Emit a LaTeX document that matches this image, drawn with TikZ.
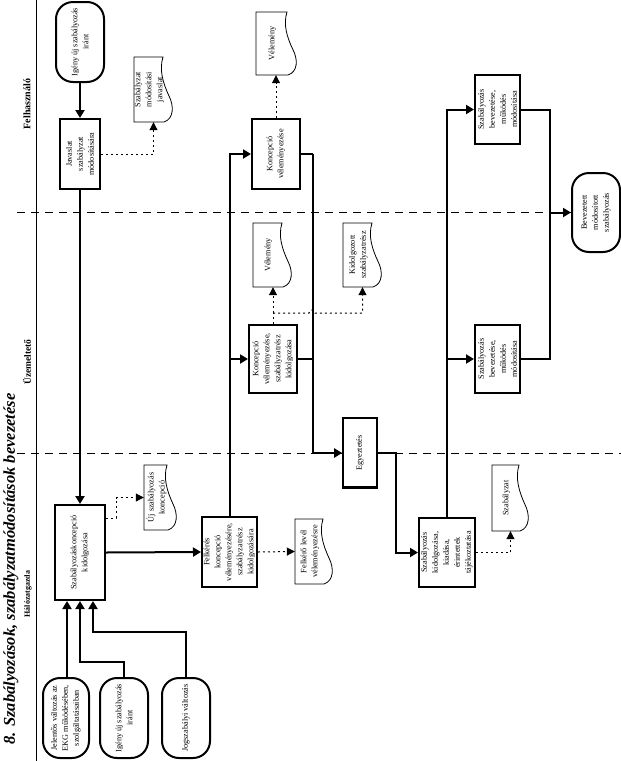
\documentclass[tikz,border=0pt]{standalone}
\usepackage{fontspec}
\setmainfont{Liberation Serif}
\usetikzlibrary{arrows.meta,fit,calc}
\newcommand\mkdoc[6]{%
  \node[box, fit={(#2,#3) (#4,#5)}] (#1) {};
  \draw[doc] (#2,#3) -- ({#4-10},#3)
    .. controls ({#4-14},{#3+0.2*(#5-#3)}) and ({#4-10},{#3+0.4*(#5-#3)}) .. ({#4-4},{#3+0.6*(#5-#3)})
    .. controls ({#4+1},{#3+0.75*(#5-#3)}) and ({#4+1},{#3+0.95*(#5-#3)}) .. ({#4-9},#5)
    -- (#2,#5) -- cycle;
  \node[lbl] (#1-t) at ({(#2+#4-8)/2},{(#3+#5)/2}) {#6};
}
\begin{document}
\begin{tikzpicture}[x=1pt,y=-1pt,
  box/.style={inner sep=0pt},
  proc/.style={draw, line width=2pt, fill=white, inner sep=0pt},
  term/.style={draw, line width=2pt, rounded corners=17pt, fill=white, inner sep=0pt},
  lbl/.style={rotate=90, align=center, inner sep=0pt, font=\fontsize{8.2}{11}\selectfont},
  flowline/.style={line width=2pt},
  flow/.style={line width=2pt, -{Triangle[length=8pt,width=9pt]}},
  dotline/.style={line width=1pt, dash pattern=on 2pt off 3pt},
  dotflow/.style={dotline, -{Triangle[length=8pt,width=8pt]}},
  doc/.style={line width=0.8pt, fill=white},
  lane/.style={line width=0.8pt, dash pattern=on 8pt off 6pt},
]
\useasboundingbox (0,0) rectangle (621,761);

% frame lines
\draw[line width=0.8pt] (36,0) -- (36,761);
\draw[lane] (17,212) -- (621,212);
\draw[lane] (17,453) -- (621,453);

% titles
\node[rotate=90, inner sep=0pt, font=\fontsize{16.5}{16.5}\bfseries\itshape\selectfont] (title) at (11,569) {8. Szabályozások, szabályzatmódosítások bevezetése};
\node[rotate=90, inner sep=0pt, font=\fontsize{10}{10}\bfseries\selectfont] (lane1) at (27,104) {Felhasználó};
\node[rotate=90, inner sep=0pt, font=\fontsize{9.5}{10}\bfseries\selectfont] (lane2) at (27,362) {Üzemeltető};
\node[rotate=90, inner sep=0pt, font=\fontsize{8}{10}\bfseries\selectfont] (lane3) at (28,594) {Hálózatgazda};

% terminals
\node[term, fit={(56,2) (104,82)}] (t1) {};
\node[lbl] (t1-t) at (t1) {Igény új szabályozás\\iránt};
\node[term, fit={(43,678) (89,758)}] (jel) {};
\node[lbl] (jel-t) at (jel) {Jelentős változás az\\EKG működésében,\\szolgáltatásaiban};
\node[term, fit={(100,678) (148,758)}] (ig2) {};
\node[lbl] (ig2-t) at (ig2) {Igény új szabályozás\\iránt};
\node[term, fit={(162,678) (210,758)}] (jog) {};
\node[lbl] (jog-t) at (jog) {Jogszabályi változás};
\node[term, fit={(572,173) (620,252)}] (bev) {};
\node[lbl] (bev-t) at (bev) {Bevezetett\\módosított\\szabályozás};

% process boxes
\node[proc, fit={(60,119) (100,189)}] (jav) {};
\node[lbl] (jav-t) at (jav) {Javaslat\\szabályzat\\módosítására};
\node[proc, fit={(55,505) (105,600)}] (konc) {};
\node[lbl] (konc-t) at (konc) {Szabályozáskoncepció\\kidolgozása};
\node[proc, fit={(202,517) (257,587)}] (felk) {};
\node[lbl] (felk-t) at (felk) {Felkérés\\koncepció\\véleményezésére,\\szabályzatrész\\kidolgozására};
\node[proc, fit={(252,119) (300,189)}] (kv) {};
\node[lbl] (kv-t) at (kv) {Koncepció\\véleményezése};
\node[proc, fit={(249,325) (297,393)}] (kvsz) {};
\node[lbl] (kvsz-t) at (kvsz) {Koncepció\\véleményezése,\\szabályzatrész\\kidolgozása};
\node[proc, line width=1.6pt, fit={(343,418) (377,488)}] (egy) {};
\draw[line width=1pt] ($(egy.south west)+(0,-2.5)$) -- ($(egy.south east)+(0,-2.5)$);
\node[lbl] (egy-t) at (egy) {Egyeztetés};
\node[proc, fit={(419,518) (475,587)}] (kik) {};
\node[lbl] (kik-t) at (kik) {Szabályozás\\kidolgozása,\\kiadása,\\érintettek\\tájékoztatása};
\node[proc, fit={(475,75) (520,144)}] (sb1) {};
\node[lbl] (sb1-t) at (sb1) {Szabályozás\\bevezetése,\\működés\\módosítása};
\node[proc, fit={(475,325) (520,393)}] (sb2) {};
\node[lbl] (sb2-t) at (sb2) {Szabályozás\\bevezetése,\\működés\\módosítása};

% documents
\mkdoc{d1}{134}{57}{173}{122}{Szabályzat\\módosítási\\javaslat}
\mkdoc{d2}{144}{465}{177}{530}{Új szabályozás\\koncepció}
\mkdoc{d3}{295}{519}{333}{584}{Felkérő levél\\véleményezésre}
\mkdoc{d4}{256}{12}{297}{75}{Vélemény}
\mkdoc{d5}{253}{223}{292}{287}{Vélemény}
\mkdoc{d6}{343}{223}{382}{287}{Kidolgozott\\szabályzatrész}
\mkdoc{d7}{492}{465}{529}{531}{Szabályzat}

% connectors
\draw[flow] (t1.south) -- (jav.north);
\draw[flow] (jav.south) -- (konc.north);
\draw[dotflow] (jav.east) -| (d1.south);
\draw[dotflow] (konc.east |- 0,518) -- ++(10,0) |- (d2.west);
\draw[flow] (konc.east) -- (felk.west);
\draw[dotflow] (felk.east) -- (d3.west);
\draw[flow] (felk.north) |- (kv.west);
\draw[flow] (felk.north |- kvsz.west) -- (kvsz.west);
\draw[dotflow] (kv.north) -- (kv.north |- d4.south);
\coordinate (j1) at (kvsz.north |- 0,313);
\draw[dotline] (kvsz.north) -- (j1);
\draw[dotflow] (j1) -- (j1 |- d5.south);
\draw[dotflow] (j1) -- (309,313) arc[start angle=180, end angle=360, radius=3] -| (d6.south);
\coordinate (m1) at ($(kv.east)+(12,0)$);
\draw[flowline] (kv.east) -- (m1);
\draw[flowline] (kvsz.east) -- (kvsz.east -| m1);
\draw[flow] (m1) |- (egy.west);
\draw[flow] (egy.east) -- ++(18,0) |- (kik.west);
\draw[dotflow] (kik.east) -| (d7.south);
\draw[flow] (kik.north) |- (sb1.west);
\draw[flow] (kik.north |- sb2.west) -- (sb2.west);
\coordinate (m2) at ($(sb1.east)+(29,0)$);
\coordinate (m3) at (m2 |- bev.west);
\draw[flowline] (sb1.east) -| (m3);
\draw[flowline] (sb2.east) -| (m3);
\draw[flow] (m3) -- (bev.west);
\coordinate (ka) at ($(konc.south)+(-13,0)$);
\coordinate (kb) at ($(konc.south)+(13,0)$);
\draw[flow] (ka |- jel.north) -- (ka);
\draw[flow] (ig2.north) -- ++(0,-15) -| (konc.south);
\draw[flow] (jog.north) -- ++(0,-45) -| (kb);
\end{tikzpicture}
\end{document}
